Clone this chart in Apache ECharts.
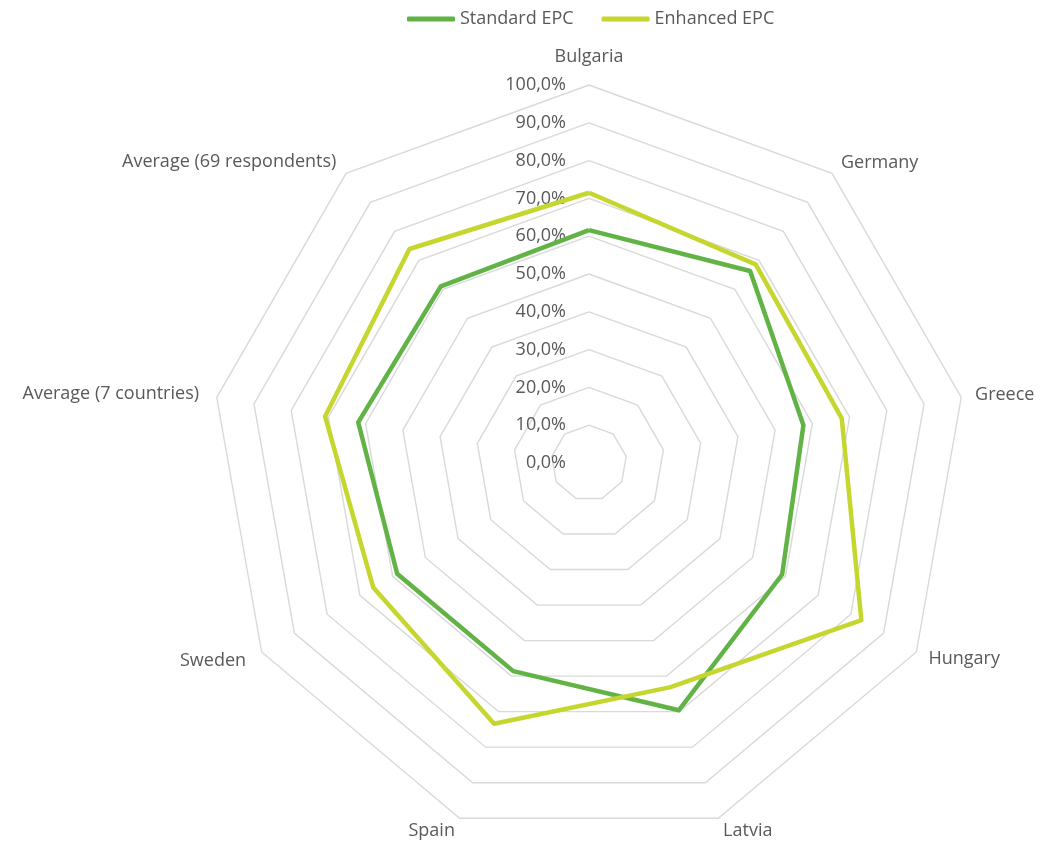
<!DOCTYPE html>
<html>
<head>
<meta charset="utf-8">
<script src="https://cdn.jsdelivr.net/npm/echarts@6/dist/echarts.min.js"></script>
<style>
html,body{margin:0;padding:0;background:#fff;}
#chart{width:1041px;height:845px;}
</style>
</head>
<body>
<div id="chart"></div>
<script>
// Categories in clockwise order starting at top (as in the reference)
var categories = ['Bulgaria', 'Germany', 'Greece', 'Hungary', 'Latvia', 'Spain', 'Sweden', 'Average (7 countries)', 'Average (69 respondents)'];
var standardEPC = [61.6, 66.3, 57.6, 59.0, 69.6, 58.6, 58.6, 62.0, 61.0];
var enhancedEPC = [71.5, 68.6, 67.9, 83.2, 63.1, 73.4, 65.9, 70.9, 73.9];
var seriesNames = ['Standard EPC', 'Enhanced EPC'];
var seriesColors = ['#62B346', '#C5D62F'];
var axisMax = 100;

// ECharts radar runs counter-clockwise; reorder so it reads clockwise like the reference
function clockwise(arr) {
  return [arr[0]].concat(arr.slice(1).reverse());
}
var cats = clockwise(categories);
var nameGaps = { 'Bulgaria': 19, 'Sweden': 18, 'Average (7 countries)': 18, 'Average (69 respondents)': 15 };
var indicators = cats.map(function (c, i) {
  var ind = { name: c, min: 0, max: axisMax };
  if (nameGaps[c]) ind.nameGap = nameGaps[c];
  if (i === 0) {
    ind.axisLabel = {
      show: true,
      color: '#595959',
      fontSize: 18,
      fontFamily: 'Open Sans',
      margin: 23,
      formatter: function (v) { return v.toFixed(1).replace('.', ',') + '%'; }
    };
  }
  return ind;
});

var chart = echarts.init(document.getElementById('chart'));
chart.setOption({
  backgroundColor: '#ffffff',
  animation: false,
  textStyle: { fontFamily: 'Open Sans' },
  legend: {
    top: 5,
    left: 402,
    itemWidth: 48,
    itemHeight: 5,
    itemGap: 28,
    icon: 'roundRect',
    textStyle: { color: '#595959', fontSize: 18, fontFamily: 'Open Sans' },
    data: seriesNames
  },
  radar: {
    center: [589, 463],
    radius: 378,
    splitNumber: 10,
    shape: 'polygon',
    nameGap: 14,
    axisName: { color: '#595959', fontSize: 18, fontFamily: 'Open Sans' },
    axisLine: { show: false },
    axisTick: { show: false },
    axisLabel: { show: false },
    splitArea: { show: false },
    splitLine: { lineStyle: { color: '#D9D9D9', width: 1.4 } },
    indicator: indicators
  },
  series: [{
    type: 'radar',
    symbol: 'none',
    data: [
      { name: seriesNames[0], value: clockwise(standardEPC),
        lineStyle: { color: seriesColors[0], width: 4.5 }, itemStyle: { color: seriesColors[0] } },
      { name: seriesNames[1], value: clockwise(enhancedEPC),
        lineStyle: { color: seriesColors[1], width: 4.5 }, itemStyle: { color: seriesColors[1] } }
    ]
  }]
});
</script>
</body>
</html>
